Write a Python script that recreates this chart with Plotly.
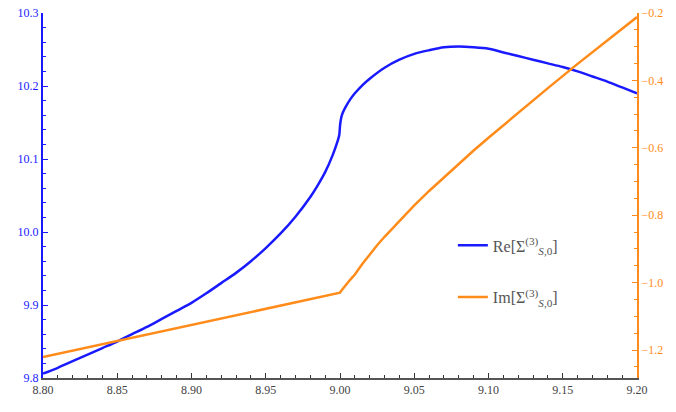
import plotly.graph_objects as go

# Real part (left axis)
re_x = [8.80, 8.81, 8.82, 8.83, 8.84, 8.85, 8.86, 8.87, 8.88, 8.89, 8.90,
        8.91, 8.92, 8.93, 8.94, 8.95, 8.96, 8.97, 8.98, 8.985, 8.99, 8.995,
        8.998, 8.9995, 9.000, 9.0005, 9.001, 9.002, 9.004, 9.007, 9.01, 9.015,
        9.02, 9.03, 9.04, 9.05, 9.06, 9.07, 9.08, 9.09, 9.10, 9.11, 9.12,
        9.13, 9.14, 9.15, 9.16, 9.17, 9.18, 9.19, 9.20]
re_y = [9.806, 9.814, 9.823, 9.832, 9.841, 9.850, 9.860, 9.870, 9.881, 9.892, 9.903,
        9.916, 9.930, 9.944, 9.960, 9.978, 9.998, 10.021, 10.048, 10.064, 10.082, 10.105,
        10.122, 10.133, 10.145, 10.153, 10.158, 10.164, 10.172, 10.182, 10.190, 10.201,
        10.210, 10.225, 10.236, 10.244, 10.249, 10.253, 10.254, 10.253, 10.251, 10.246, 10.241,
        10.236, 10.231, 10.226, 10.220, 10.213, 10.206, 10.198, 10.190]

# Imaginary part (right axis)
im_x = [8.80, 9.00, 9.001, 9.002, 9.003, 9.004, 9.006, 9.008, 9.01, 9.015, 9.02, 9.025,
        9.03, 9.035, 9.04, 9.05, 9.06, 9.07, 9.08, 9.09, 9.10, 9.12, 9.14, 9.16, 9.18, 9.20]
im_y = [-1.221, -1.030, -1.023, -1.017, -1.011, -1.006, -0.996, -0.986, -0.976, -0.945, -0.916, -0.889,
        -0.864, -0.840, -0.816, -0.771, -0.728, -0.687, -0.647, -0.608, -0.570, -0.496, -0.423,
        -0.351, -0.281, -0.212]

re_name = "Re[Σ<sup>(3)</sup><sub><i>S</i>,0</sub>]"
im_name = "Im[Σ<sup>(3)</sup><sub><i>S</i>,0</sub>]"

BLUE = "#1a1aff"
ORANGE = "#ff8c1a"
GRAY = "#555555"
SERIF = "Liberation Serif"

fig = go.Figure()
fig.add_trace(go.Scatter(x=re_x, y=re_y, name=re_name, mode="lines",
                         line=dict(color=BLUE, width=2.5, shape="spline", smoothing=0.8),
                         yaxis="y", legendgroup="re"))
fig.add_trace(go.Scatter(x=im_x, y=im_y, name=im_name, mode="lines",
                         line=dict(color=ORANGE, width=2.5),
                         yaxis="y2", legendgroup="im"))

fig.update_layout(
    width=676, height=412,
    margin=dict(l=43, r=39, t=13, b=34, autoexpand=False),
    paper_bgcolor="white", plot_bgcolor="white",
    font=dict(family=SERIF, size=12, color="#333"),
    xaxis=dict(range=[8.8, 9.2], dtick=0.05, tick0=8.8, tickformat=".2f",
               ticks="inside", ticklen=5, tickwidth=1, tickcolor="#333",
               minor=dict(dtick=0.01, ticks="inside", ticklen=3, tickcolor="#333"),
               showline=True, linecolor=GRAY, linewidth=2, showgrid=False,
               zeroline=False, automargin=False, ticklabeloverflow="allow",
               tickfont=dict(family=SERIF, size=12, color="#444")),
    xaxis2=dict(range=[8.8, 9.2], overlaying="x", side="top", showticklabels=False,
                dtick=0.1, tick0=8.8, ticks="inside", ticklen=5, tickcolor="#333",
                minor=dict(dtick=0.02, ticks="inside", ticklen=3, tickcolor="#333"),
                showline=True, linecolor=GRAY, linewidth=2, showgrid=False,
                zeroline=False, automargin=False),
    yaxis=dict(range=[9.8, 10.3], dtick=0.1, tick0=9.8, tickformat=".1f",
               ticks="inside", ticklen=5, tickcolor=BLUE,
               minor=dict(dtick=0.02, ticks="inside", ticklen=3, tickcolor=BLUE),
               showline=True, linecolor=BLUE, linewidth=2, showgrid=False,
               zeroline=False, automargin=False, ticklabeloverflow="allow",
               tickfont=dict(family=SERIF, size=12, color=BLUE)),
    yaxis2=dict(range=[-1.283, -0.2], overlaying="y", side="right",
                dtick=0.2, tick0=-0.2, tickformat=".1f",
                ticks="inside", ticklen=5, tickcolor=ORANGE,
                minor=dict(dtick=0.05, ticks="inside", ticklen=3, tickcolor=ORANGE),
                showline=True, linecolor=ORANGE, linewidth=2, showgrid=False,
                zeroline=False, automargin=False, ticklabeloverflow="allow",
                tickfont=dict(family=SERIF, size=12, color=ORANGE)),
    legend=dict(x=0.69, y=0.41, xanchor="left", yanchor="top",
                bgcolor="rgba(0,0,0,0)", traceorder="grouped", tracegroupgap=28,
                font=dict(family=SERIF, size=16, color=GRAY)),
    showlegend=True,
)

# remove the browser's default 8px body margin so the figure sits at (0, 0)
fig.write_html("out.html", config={"displayModeBar": False},
               post_script=["document.body.style.margin='0';"])
